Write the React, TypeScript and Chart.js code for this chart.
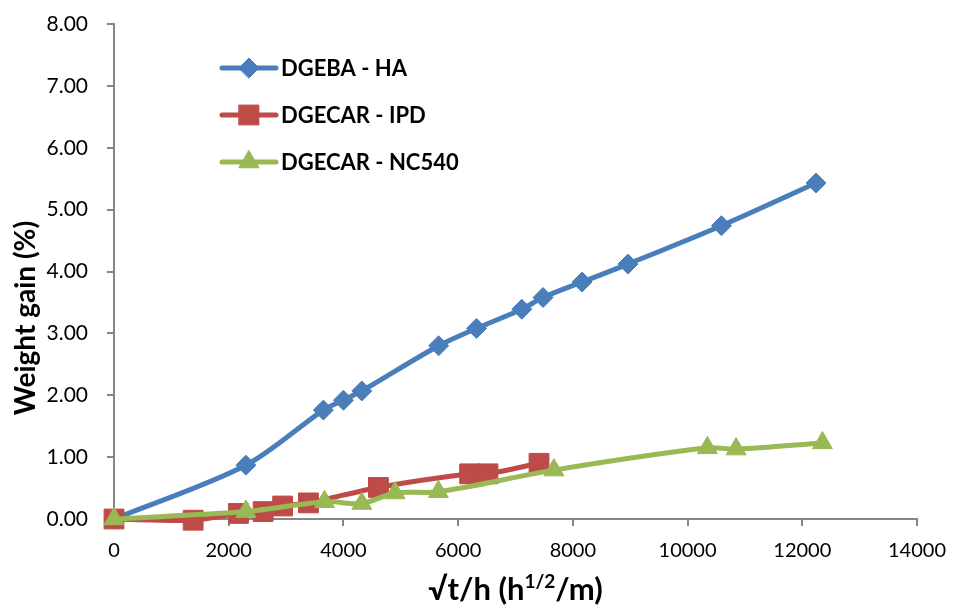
import React, { useEffect, useRef } from "react";
import { Chart, registerables } from "chart.js";
import { drawPoint } from "chart.js/helpers";

Chart.register(...registerables);

// ---- data ----
const seriesNames = ["DGEBA - HA", "DGECAR - IPD", "DGECAR - NC540"];

const haX = [0, 2300, 3650, 4000, 4320, 5660, 6320, 7110, 7480, 8160, 8960, 10590, 12240];
const haY = [0, 0.87, 1.76, 1.92, 2.07, 2.8, 3.08, 3.39, 3.58, 3.83, 4.12, 4.74, 5.43];

const ipdX = [0, 1380, 2170, 2600, 2940, 3390, 4610, 6200, 6520, 7410];
const ipdY = [0, -0.02, 0.09, 0.12, 0.21, 0.26, 0.51, 0.73, 0.73, 0.9];

const ncX = [0, 2300, 3670, 4320, 4900, 5655, 7670, 10345, 10846, 12351];
const ncY = [0, 0.12, 0.28, 0.25, 0.42, 0.44, 0.79, 1.15, 1.13, 1.23];

const xMin = 0;
const xMax = 14000;
const xStep = 2000;
const yMin = 0;
const yMax = 8;
const yStep = 1;

const yTitle = "Weight gain (%)";
const xTitleParts = ["√t/h (h", "1/2", "/m)"];

const colors = ["#4A7EBB", "#BE4B48", "#98B954"];

const toPoints = (xs: number[], ys: number[]) => xs.map((x, i) => ({ x, y: ys[i] }));

const FONT = "Lato, 'Open Sans', 'Noto Sans', sans-serif";

const legendPlugin = {
  id: "insideLegend",
  afterDatasetsDraw(chart: any) {
    const { ctx, chartArea } = chart;
    chart.data.datasets.forEach((ds: any, i: number) => {
      const y = chartArea.top + 44 + i * 47;
      const x0 = chartArea.left + 108;
      const x1 = x0 + 54;
      ctx.save();
      ctx.strokeStyle = ds.borderColor;
      ctx.lineWidth = 5;
      ctx.lineCap = "round";
      ctx.beginPath();
      ctx.moveTo(x0, y);
      ctx.lineTo(x1, y);
      ctx.stroke();
      ctx.fillStyle = ds.pointBackgroundColor;
      ctx.strokeStyle = ds.pointBorderColor;
      ctx.lineWidth = 1;
      drawPoint(ctx, { pointStyle: ds.pointStyle, radius: ds.pointRadius, borderWidth: 1, rotation: 0 }, (x0 + x1) / 2, y);
      ctx.font = `bold 22px ${FONT}`;
      ctx.fillStyle = "#000";
      ctx.textBaseline = "middle";
      ctx.textAlign = "left";
      ctx.fillText(ds.label, x1 + 5, y + 1);
      ctx.restore();
    });
  },
};

const titlesPlugin = {
  id: "axisTitles",
  afterDraw(chart: any) {
    const { ctx, chartArea } = chart;
    ctx.save();
    // y title
    ctx.font = `bold 28px ${FONT}`;
    ctx.fillStyle = "#000";
    ctx.textAlign = "center";
    ctx.textBaseline = "middle";
    ctx.translate(26, 318);
    ctx.rotate(-Math.PI / 2);
    ctx.fillText(yTitle, 0, 0);
    ctx.restore();

    // x title with superscript
    ctx.save();
    const big = `bold 31px ${FONT}`;
    const small = `bold 19px ${FONT}`;
    ctx.fillStyle = "#000";
    ctx.textAlign = "left";
    ctx.textBaseline = "alphabetic";
    ctx.font = big;
    const w0 = ctx.measureText(xTitleParts[0]).width;
    const w2 = ctx.measureText(xTitleParts[2]).width;
    ctx.font = small;
    const w1 = ctx.measureText(xTitleParts[1]).width;
    const total = w0 + w1 + w2;
    const cx = (chartArea.left + chartArea.right) / 2;
    const base = 600;
    let x = cx - total / 2;
    ctx.font = big;
    ctx.fillText(xTitleParts[0], x, base);
    x += w0;
    ctx.font = small;
    ctx.fillText(xTitleParts[1], x, base - 12);
    x += w1;
    ctx.font = big;
    ctx.fillText(xTitleParts[2], x, base);
    ctx.restore();
  },
};

export default function App() {
  const ref = useRef<HTMLCanvasElement>(null);

  useEffect(() => {
    if (!ref.current) return;
    const mk = (label: string, xs: number[], ys: number[], color: string, style: string, radius: number, order: number) => ({
      label,
      data: toPoints(xs, ys),
      borderColor: color,
      backgroundColor: color,
      pointBackgroundColor: color,
      pointBorderColor: color,
      pointStyle: style,
      pointRadius: radius,
      pointBorderWidth: 1,
      borderWidth: 5,
      tension: 0.3,
      clip: false as any,
      order,
    });
    const chart = new Chart(ref.current, {
      type: "line",
      data: {
        datasets: [
          mk(seriesNames[0], haX, haY, colors[0], "rectRot", 10, 3),
          mk(seriesNames[1], ipdX, ipdY, colors[1], "rect", 14, 2),
          mk(seriesNames[2], ncX, ncY, colors[2], "triangle", 11.5, 1),
        ],
      },
      options: {
        animation: false,
        responsive: false,
        events: [],
        layout: { padding: { left: 0, right: 36, top: 24, bottom: 0 } },
        plugins: { legend: { display: false }, tooltip: { enabled: false } },
        scales: {
          x: {
            type: "linear",
            min: xMin,
            max: xMax,
            afterFit: (s: any) => {
              s.height = 90;
              s.paddingLeft = 0;
              s.paddingRight = 0;
            },
            ticks: {
              stepSize: xStep,
              color: "#000",
              font: { family: FONT, size: 20 },
              padding: 13,
              maxRotation: 0,
              callback: (v: any) => String(v),
            },
            grid: { drawOnChartArea: false, drawTicks: true, tickLength: 7, color: "#868686", lineWidth: 2 },
            border: { color: "#868686", width: 2 },
          },
          y: {
            type: "linear",
            min: yMin,
            max: yMax,
            afterFit: (s: any) => {
              s.width = 114;
              s.paddingTop = 0;
              s.paddingBottom = 0;
            },
            ticks: {
              stepSize: yStep,
              color: "#000",
              font: { family: FONT, size: 21 },
              padding: 19,
              callback: (v: any) => Number(v).toFixed(2),
            },
            grid: { drawOnChartArea: false, drawTicks: true, tickLength: 7, color: "#868686", lineWidth: 2 },
            border: { color: "#868686", width: 2 },
          },
        },
      },
      plugins: [legendPlugin, titlesPlugin],
    });
    const fonts = (document as any).fonts;
    if (fonts && fonts.load) {
      Promise.all([
        fonts.load(`20px Lato`),
        fonts.load(`bold 20px Lato`),
      ]).then(() => {
        try { chart.update(); } catch (e) {}
      });
    }
    return () => chart.destroy();
  }, []);

  return (
    <div style={{ position: "fixed", left: 0, top: 0, width: 953, height: 609, background: "#fff" }}>
      <canvas ref={ref} width={953} height={609} style={{ width: 953, height: 609 }} />
    </div>
  );
}
